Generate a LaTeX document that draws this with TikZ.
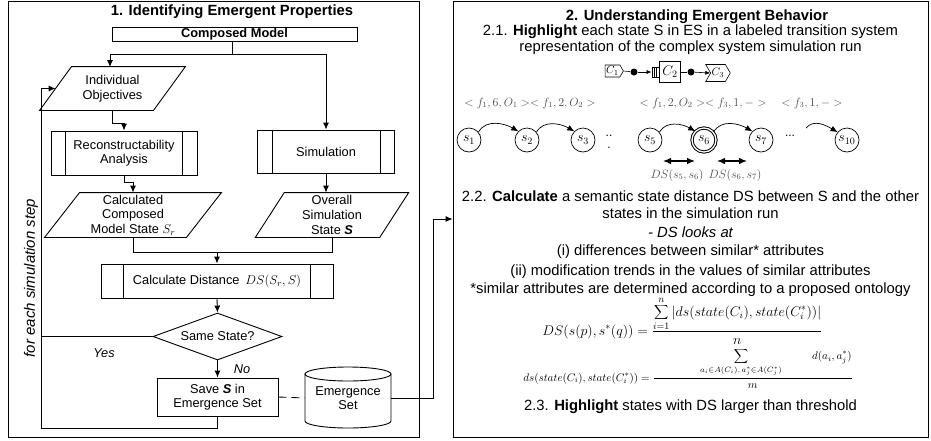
\RequirePackage{fix-cm}
\documentclass[tikz,border=0pt]{standalone}
\usepackage{fontspec}
\setmainfont{Liberation Sans}
\usetikzlibrary{arrows.meta,shapes.geometric,shapes.symbols}

\tikzset{
	procbox/.style={draw, rectangle, inner sep=0pt, align=center},
	datanode/.style={inner sep=0pt, align=center},
	flowarrow/.style={draw, -{Latex[length=7pt,width=6pt]}},
	stnode/.style={draw, circle, minimum size=24pt, inner sep=0pt, line width=0.7pt, font=\fontsize{14}{16}\selectfont},
	lbl/.style={text=black!70, inner sep=0pt, font=\fontsize{12}{14}\selectfont},
	txtr/.style={inner sep=0pt, font=\fontsize{14.8}{16.5}\selectfont},
	bendarrow/.style={draw, line width=0.7pt, -{Latex[length=7pt,width=6pt]}},
	dsarrow/.style={draw, line width=1.2pt, {Latex[length=8pt,width=6.5pt]}-{Latex[length=8pt,width=6.5pt]}},
	compsig/.style={draw, signal, signal pointer angle=120, inner sep=1pt, line width=0.6pt, font=\fontsize{11}{13}\selectfont},
}

\begin{document}
\begin{tikzpicture}[x=1pt, y=-1pt, line width=0.9pt, font=\fontsize{12.8}{14.6}\selectfont]
	\useasboundingbox (0,0) rectangle (931,440);

	\node[draw, minimum width=411, minimum height=436, inner sep=0pt] (panelA) at (213.5,219) {};
	\node[draw, minimum width=475, minimum height=436, inner sep=0pt] (panelB) at (690.5,219) {};

	\node (titleA) at (232,12) {\fontsize{14.8}{16.5}\selectfont\bfseries 1. Identifying Emergent Properties};
	\node[procbox, minimum width=245, minimum height=14] (composed) at (234.5,34) {\bfseries Composed Model};

	\node[datanode, minimum width=113, minimum height=43] (indobj) at (112.5,88.5) {Individual\\Objectives};
	\path[draw] ([xshift=16pt]indobj.north west) -- ([xshift=16pt]indobj.north east) -- ([xshift=-16pt]indobj.south east) -- ([xshift=-16pt]indobj.south west) -- cycle;

	\node[procbox, minimum width=146, minimum height=44] (recon) at (124,153) {Reconstructability\\Analysis};
	\path[draw] ([xshift=15pt]recon.north west) -- ([xshift=15pt]recon.south west);
	\path[draw] ([xshift=-15pt]recon.north east) -- ([xshift=-15pt]recon.south east);

	\node[procbox, minimum width=137, minimum height=43] (sim) at (326,151.5) {Simulation};
	\path[draw] ([xshift=15pt]sim.north west) -- ([xshift=15pt]sim.south west);
	\path[draw] ([xshift=-15pt]sim.north east) -- ([xshift=-15pt]sim.south east);

	\node[datanode, minimum width=141, minimum height=44] (calc) at (133,215) {Calculated\\Composed\\Model State $S_r$};
	\path[draw] ([xshift=17.5pt]calc.north west) -- ([xshift=17.5pt]calc.north east) -- ([xshift=-17.5pt]calc.south east) -- ([xshift=-17.5pt]calc.south west) -- cycle;

	\node[datanode, minimum width=123.5, minimum height=44] (overall) at (332,215) {Overall\\Simulation\\State \textbf{\textit{S}}};
	\path[draw] ([xshift=14.5pt]overall.north west) -- ([xshift=14.5pt]overall.north east) -- ([xshift=-14.5pt]overall.south east) -- ([xshift=-14.5pt]overall.south west) -- cycle;

	\node[procbox, minimum width=232, minimum height=34] (dist) at (217,281) {Calculate Distance \,$DS(S_r,S)$};
	\path[draw] ([xshift=23pt]dist.north west) -- ([xshift=23pt]dist.south west);
	\path[draw] ([xshift=-23pt]dist.north east) -- ([xshift=-23pt]dist.south east);

	\node[draw, diamond, aspect=2.7, inner sep=0pt, minimum width=129, minimum height=47] (same) at (217.5,336.5) {Same State?};
	\node[procbox, minimum width=121, minimum height=38] (save) at (217.5,397) {Save \textbf{\textit{S}} in\\Emergence Set};

	\node[datanode, minimum width=86, minimum height=30] (emset) at (348,398) {Emergence\\Set};
	\path[draw] (348,374) ellipse [x radius=43pt, y radius=7pt];
	\path[draw] (305,374) -- (305,421) arc [start angle=180, end angle=360, x radius=43pt, y radius=7pt] -- (391,374);

	\node (yes) at (104,353) {\itshape Yes};
	\node (no) at (242,369) {\itshape No};
	\node[rotate=90] (loopnote) at (31,278) {\fontsize{15}{17}\selectfont\itshape for each simulation step};

	\coordinate (split) at (232,54);
	\coordinate (ioin) at (110,67);
	\coordinate (loop) at (41,428);

	\path[draw] (composed.south -| split) -- (split);
	\path[flowarrow] (split) -| (ioin);
	\path[flowarrow] (split) -| (sim.north);
	\path[flowarrow] (indobj.south) -- ++(0,13) -| (recon.north);
	\path[flowarrow] (recon.south) -- ++(0,7) -| (calc.north);
	\path[flowarrow] (sim.south) -- (sim.south |- overall.north);
	\path[draw] (calc.south) -- ++(0,15) coordinate (merge) -| (overall.south);
	\path[flowarrow] (merge -| dist.north) -- (dist.north);
	\path[flowarrow] (dist.south) -- (same.north);
	\path[flowarrow] (same.south) -- (save.north);
	\path[draw] (same.west) -- (same.west -| loop);
	\path[flowarrow] (save.south) |- (loop) |- (indobj.west);
	\path[draw, dash pattern=on 8pt off 5pt] (save.east) -- (emset.west);
	\path[flowarrow] (emset.east) -| (433,219) -- (panelB.west);

	\node (titleB) at (697,17) {\fontsize{14.8}{16.5}\selectfont\bfseries 2. Understanding Emergent Behavior};
	\node[txtr] (step21a) at (690.5,32) {2.1. \textbf{Highlight} each state S in ES in a labeled transition system};
	\node[txtr] (step21b) at (690.5,48) {representation of the complex system simulation run};

	\node[compsig, signal to=east, minimum height=12] (c1) at (612.5,71) {$C_1$};
	\node[draw, rectangle, minimum size=21, inner sep=0pt, line width=0.6pt, font=\fontsize{14}{16}\selectfont] (c2) at (670,72) {$C_2$};
	\node[draw, rectangle, minimum width=7, minimum height=10, inner sep=0pt, line width=0.6pt, anchor=east] (q2) at (c2.west) {};
	\path[draw, line width=0.6pt] ([xshift=2.3pt]q2.north west) -- ([xshift=2.3pt]q2.south west);
	\path[draw, line width=0.6pt] ([xshift=4.6pt]q2.north west) -- ([xshift=4.6pt]q2.south west);
	\node[compsig, signal from=west, minimum height=17] (c3) at (718,73) {$C_3$};
	\node[circle, fill, minimum size=7, inner sep=0pt] (d1) at (634,72) {};
	\node[circle, fill, minimum size=7, inner sep=0pt] (d2) at (691,72) {};
	\path[draw, line width=0.6pt] (c1.east) -- (d1);
	\path[draw, line width=0.6pt, -{Latex[length=5pt,width=4pt]}] (d1) -- (q2.west);
	\path[draw, line width=0.6pt] (c2.east) -- (d2);
	\path[draw, line width=0.6pt, -{Latex[length=5pt,width=4pt]}] (d2) -- (c3.west);

	\node[lbl] (lab12) at (530,103) {$<f_1,6,O_1><f_1,2,O_2>$};
	\node[lbl] (lab56) at (703,103) {$<f_1,2,O_2><f_3,1,->$};
	\node[lbl] (lab10) at (812,103) {$<f_3,1,->$};

	\node[stnode] (s1) at (469,140) {$s_1$};
	\node[stnode] (s2) at (527,140) {$s_2$};
	\node[stnode] (s3) at (583,140) {$s_3$};
	\node[align=center, inner sep=0pt, font=\fontsize{12}{12}\selectfont] (gap1) at (609,142) {..\\.};
	\node[stnode] (s5) at (650,140) {$s_5$};
	\node[stnode, double, double distance=1.3pt, line width=1pt] (s6) at (704,140) {$s_6$};
	\node[stnode] (s7) at (761,140) {$s_7$};
	\node[inner sep=0pt, font=\fontsize{12}{14}\selectfont] (gap2) at (790,136) {...};
	\node[stnode] (s10) at (847,140) {$s_{10}$};
	\coordinate (s10in) at (806,128);

	\path[bendarrow] (s1.40) to[out=60, in=150] (s2.135);
	\path[bendarrow] (s2.40) to[out=60, in=150] (s3.135);
	\path[bendarrow] (s5.40) to[out=60, in=150] (s6.135);
	\path[bendarrow] (s6.40) to[out=60, in=150] (s7.135);
	\path[bendarrow] (s10in) to[out=50, in=150] (s10.140);

	\coordinate (ds56a) at (663,161);
	\coordinate (ds56b) at (695,161);
	\coordinate (ds67a) at (717,161);
	\coordinate (ds67b) at (747,161);
	\path[dsarrow] (ds56a) -- (ds56b);
	\path[dsarrow] (ds67a) -- (ds67b);
	\node[lbl] (ds56) at (677,175) {$DS(s_5,s_6)$};
	\node[lbl] (ds67) at (735,175) {$DS(s_6,s_7)$};

	\node[txtr] (step22a) at (690.5,196) {2.2. \textbf{Calculate} a semantic state distance DS between S and the other};
	\node[txtr] (step22b) at (690.5,213) {states in the simulation run};
	\node[txtr] (looks) at (690.5,232) {\itshape - DS looks at};
	\node[txtr] (crit1) at (690.5,252) {(i) differences between similar* attributes};
	\node[txtr] (crit2) at (690.5,272) {(ii) modification trends in the values of similar attributes};
	\node[txtr] (onto) at (690.5,290) {*similar attributes are determined according to a proposed ontology};

	\node[anchor=base west, inner sep=0pt, font=\fontsize{14}{16}\selectfont] (dsform) at (542,335) {$\displaystyle DS(s(p),s^*(q)) = \frac{\displaystyle\sum_{i=1}^{n}|ds(state(C_i),state(C_i^*))|}{n}$};
	\node[anchor=base west, inner sep=0pt, font=\fontsize{11}{13}\selectfont] (dsform2) at (523,381) {$\displaystyle ds(state(C_i),state(C_i^*)) = \frac{\hspace{4.2em}\displaystyle\sum_{a_i\in A(C_i),\,a_j^*\in A(C_j^*)}\hspace{2.6em} d(a_i,a_j^*)}{m}$};

	\node[txtr] (step23) at (690.5,407) {2.3. \textbf{Highlight} states with DS larger than threshold};
\end{tikzpicture}
\end{document}
